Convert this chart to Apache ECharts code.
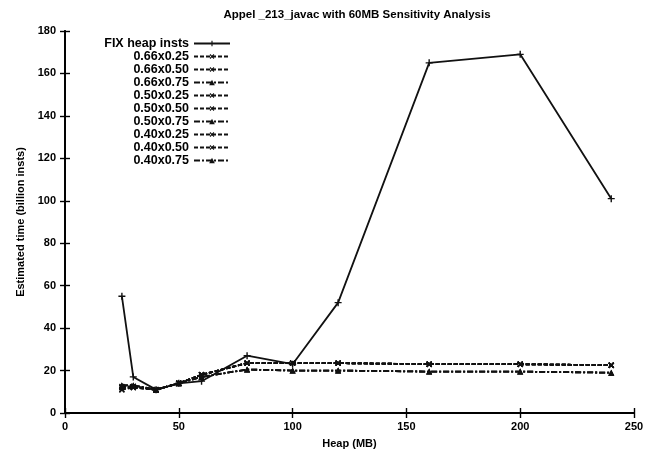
<!DOCTYPE html>
<html>
<head>
<meta charset="utf-8">
<script src="https://cdn.jsdelivr.net/npm/echarts@6/dist/echarts.min.js"></script>
<style>
  html, body { margin: 0; padding: 0; background: #fff; }
  #chart { width: 648px; height: 455px; }
</style>
</head>
<body>
<div id="chart"></div>
<script>
// heap sizes (MB)
var heapSizes = [25, 30, 40, 50, 60, 80, 100, 120, 160, 200, 240];

// estimated time (billion insts)
var fixHeap = [55, 17, 11, 14, 15, 27, 23, 52, 165, 169, 101];
var s66x25 = [12, 12, 11, 14, 18, 23.5, 23.5, 23.5, 23, 23, 22.5];
var s66x50 = [11, 12.5, 11, 14, 18, 23.5, 23.5, 23.5, 23, 23, 22.5];
var s66x75 = [13, 13, 11, 14, 17, 20.5, 20, 20, 19.5, 19.5, 19];
var s50x25 = [12, 12, 11, 14, 18, 23.5, 23.5, 23.5, 23, 23, 22.5];
var s50x50 = [12.5, 12.5, 11, 14, 18, 23.5, 23.5, 23.5, 23, 23, 22.5];
var s50x75 = [13, 13, 11, 14, 17, 20.5, 20, 20, 19.5, 19.5, 19];
var s40x25 = [11, 12, 11, 14, 18, 23.5, 23.5, 23.5, 23, 23, 22.5];
var s40x50 = [12, 12.5, 11, 14, 18, 23.5, 23.5, 23.5, 23, 23, 22.5];
var s40x75 = [13, 13, 11, 14, 17, 20.5, 20, 20, 19.5, 19.5, 19];

var xTicks = [0, 50, 100, 150, 200, 250];
var yTicks = [0, 20, 40, 60, 80, 100, 120, 140, 160, 180];

var font = "'Liberation Sans', Arial, sans-serif";
var plusSym = "path://M4,0h2v4h4v2h-4v4h-2v-4h-4v-2h4z";

function pairs(ys) {
  return heapSizes.map(function (x, i) { return [x, ys[i]]; });
}

function mkSeries(name, ys, sym, dash, rot) {
  return {
    name: name,
    type: "line",
    data: pairs(ys),
    symbol: sym,
    symbolSize: sym === "triangle" ? 6 : 7,
    symbolRotate: rot || 0,
    showSymbol: true,
    animation: false,
    lineStyle: { color: "#111", width: 1.8, type: dash },
    itemStyle: { color: "#111" },
  };
}

var chart = echarts.init(document.getElementById("chart"));

var axisLine = { show: true, lineStyle: { color: "#000", width: 1.8 } };
var axisTick = { show: true, inside: true, length: 5, lineStyle: { color: "#000", width: 1.4 } };
var labelStyle = { color: "#000", fontFamily: font, fontWeight: "bold", fontSize: 11 };

chart.setOption({
  backgroundColor: "#fff",
  title: {
    text: "Appel _213_javac with 60MB Sensitivity Analysis",
    left: 352,
    top: 4,
    textAlign: "center",
    textStyle: { color: "#000", fontFamily: font, fontWeight: "bold", fontSize: 11.5 },
  },
  grid: { left: 65, right: 14, top: 31, bottom: 42 },
  legend: {
    orient: "vertical",
    left: 94,
    top: 32,
    align: "right",
    itemWidth: 36,
    itemHeight: 7,
    itemGap: 0,
    textStyle: {
      color: "#000",
      fontFamily: font,
      fontWeight: "bold",
      fontSize: 12.5,
      lineHeight: 13,
      width: 90,
      align: "right",
    },
  },
  xAxis: [
    {
      type: "value",
      min: 0,
      max: 250,
      interval: 50,
      name: "Heap (MB)",
      nameLocation: "middle",
      nameGap: 25,
      nameTextStyle: labelStyle,
      axisLine: axisLine,
      axisTick: axisTick,
      axisLabel: Object.assign({ margin: 8 }, labelStyle),
      splitLine: { show: false },
    },
    {
      type: "value",
      position: "top",
      min: 0,
      max: 250,
      interval: 50,
      axisLine: axisLine,
      axisTick: axisTick,
      axisLabel: { show: false },
      splitLine: { show: false },
    },
  ],
  yAxis: [
    {
      type: "value",
      min: 0,
      max: 180,
      interval: 20,
      name: "Estimated time (billion insts)",
      nameLocation: "middle",
      nameGap: 38,
      nameRotate: 90,
      nameTextStyle: labelStyle,
      axisLine: axisLine,
      axisTick: axisTick,
      axisLabel: Object.assign({ margin: 9 }, labelStyle),
      splitLine: { show: false },
    },
    {
      type: "value",
      position: "right",
      min: 0,
      max: 180,
      interval: 20,
      axisLine: axisLine,
      axisTick: axisTick,
      axisLabel: { show: false },
      splitLine: { show: false },
    },
  ],
  series: [
    mkSeries("FIX heap insts", fixHeap, plusSym, "solid"),
    mkSeries("0.66x0.25", s66x25, plusSym, [4, 2], 45),
    mkSeries("0.66x0.50", s66x50, plusSym, [4, 2], 45),
    mkSeries("0.66x0.75", s66x75, "triangle", [6, 2, 2, 2]),
    mkSeries("0.50x0.25", s50x25, plusSym, [4, 2], 45),
    mkSeries("0.50x0.50", s50x50, plusSym, [4, 2], 45),
    mkSeries("0.50x0.75", s50x75, "triangle", [6, 2, 2, 2]),
    mkSeries("0.40x0.25", s40x25, plusSym, [4, 2], 45),
    mkSeries("0.40x0.50", s40x50, plusSym, [4, 2], 45),
    mkSeries("0.40x0.75", s40x75, "triangle", [6, 2, 2, 2]),
  ],
});
</script>
</body>
</html>
